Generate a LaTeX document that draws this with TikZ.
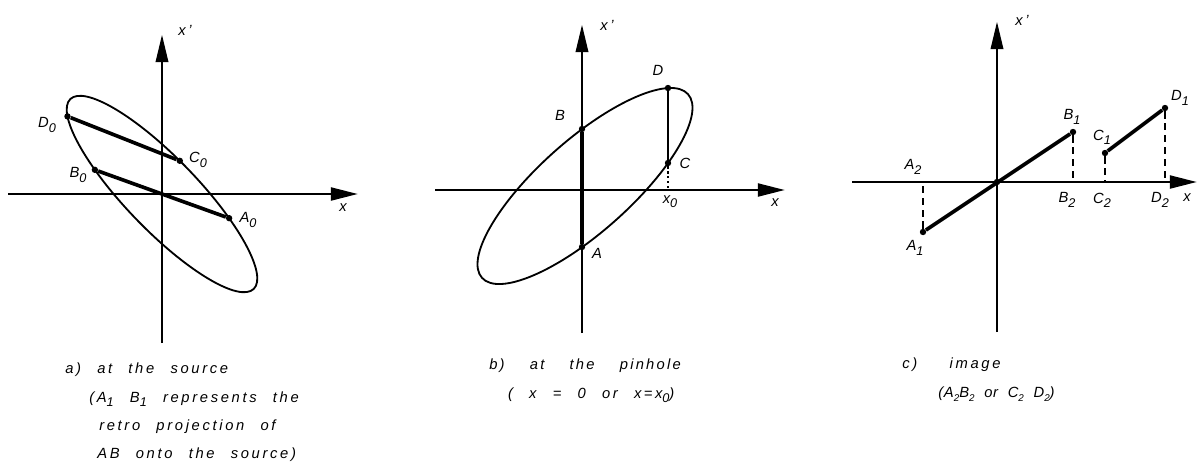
\documentclass[tikz,border=0pt]{standalone}
\usepackage{fontspec}
\setmainfont{Liberation Sans}[LetterSpace=18, WordSpace=2.4]
\newfontfamily\widefont{Liberation Sans}[LetterSpace=15, WordSpace=4]
\newfontfamily\plainfont{Liberation Sans}[LetterSpace=5, WordSpace=2]
\usetikzlibrary{arrows.meta}

\newcommand\lo[1]{\raisebox{-0.55ex}{\small #1}}
\newcommand\los[1]{\raisebox{-0.55ex}{\scriptsize #1}}

\begin{document}
\begin{tikzpicture}[x=0.25mm, y=0.25mm,
  every node/.style={font=\fontsize{10.5}{20}\selectfont\itshape},
  axis/.style={line width=0.8pt, -{Triangle[length=6.8mm, width=3.2mm]}},
  xaxis/.style={axis, line width=2pt},
  curve/.style={line width=1.3pt},
  seg/.style={line width=2.6pt},
  proj/.style={line width=0.9pt, dash pattern=on 5pt off 3.5pt},
  pt/.style={circle, fill, inner sep=0pt, minimum size=1.6mm},
  captext/.style={anchor=north west, align=left, inner sep=0pt}]
  \useasboundingbox (0,0) rectangle (1199,-468);

  % a) at the source
  \begin{scope}[shift={(162,-194)}]
    \coordinate (aW) at (-154,0); \coordinate (aE) at (196,0);
    \coordinate (aS) at (0,-149); \coordinate (aN) at (0,159);
    \draw[xaxis] (aW) -- (aE);
    \draw[axis] (aS) -- (aN);
    \draw[curve, rotate=-46] (0,0) ellipse [x radius=132, y radius=36];
    \begin{scope}[rotate=-46]
      \node[pt] (A0) at ({132*cos(61)},{36*sin(61)}) {};
      \node[pt] (B0) at ({132*cos(241)},{36*sin(241)}) {};
      \node[pt] (C0) at ({132*cos(95)},{36*sin(95)}) {};
      \node[pt] (D0) at ({132*cos(203)},{36*sin(203)}) {};
    \end{scope}
    \draw[seg] (D0) -- (C0);
    \draw[seg] (B0) -- (A0);
    \node (lD0) at (-115,69) {D\lo{0}};
    \node (lC0) at (36,34) {C\lo{0}};
    \node (lB0) at (-84,19) {B\lo{0}};
    \node (lA0) at (86,-26) {A\lo{0}};
    \node (lxa) at (23,164) {x\,'};
    \node (lxb) at (181,-14) {x};
  \end{scope}

  % b) at the pinhole
  \begin{scope}[shift={(582,-190)}]
    \coordinate (bW) at (-147,0); \coordinate (bE) at (203,0);
    \coordinate (bS) at (0,-143); \coordinate (bN) at (0,165);
    \coordinate (bX) at (86,0);
    \draw[xaxis] (bW) -- (bE);
    \draw[axis] (bS) -- (bN);
    \draw[curve, shift={(3,4)}, rotate=41.7] (0,0) ellipse [x radius=138, y radius=46];
    \node[pt] (A) at (0,-57) {};
    \node[pt] (B) at (0,61) {};
    \node[pt] (C) at (86,27) {};
    \node[pt] (D) at (86,102) {};
    \draw[seg] (A) -- (B);
    \draw[line width=1.6pt] (D) -- (C);
    \draw[line width=0.8pt, dash pattern=on 1.5pt off 2pt] (C) -- (bX);
    \node (lB) at (-22,75) {B};
    \node (lD) at (76,120) {D};
    \node (lC) at (103,27) {C};
    \node (lA) at (15,-63) {A};
    \node (lx0) at (88,-12) {x\lo{0}};
    \node (lxc) at (25,165) {x\,'};
    \node (lxd) at (193,-13) {x};
  \end{scope}

  % c) image
  \begin{scope}[shift={(997,-182)}]
    \coordinate (cW) at (-145,0); \coordinate (cE) at (200,0);
    \coordinate (cS) at (0,-150); \coordinate (cN) at (0,160);
    \draw[xaxis] (cW) -- (cE);
    \draw[axis] (cS) -- (cN);
    \node[pt] (O) at (0,0) {};
    \node[pt] (A1) at (-74,-50) {};
    \node[pt] (B1) at (76,50) {};
    \node[pt] (C1) at (108,29) {};
    \node[pt] (D1) at (168,74) {};
    \foreach \p/\q in {A1/A2, B1/B2, C1/C2, D1/D2}
      \coordinate (\q) at (\p |- O);
    \draw[seg] (A1) -- (B1);
    \draw[seg] (C1) -- (D1);
    \foreach \p/\q in {A1/A2, B1/B2, C1/C2, D1/D2}
      \draw[proj] (\p) -- (\q);
    \node (lA2) at (-84,15) {A\lo{2}};
    \node (lA1) at (-82,-66) {A\lo{1}};
    \node (lB1) at (75,65) {B\lo{1}};
    \node (lC1) at (105,45) {C\lo{1}};
    \node (lD1) at (183,84) {D\lo{1}};
    \node (lB2) at (70,-18) {B\lo{2}};
    \node (lC2) at (105,-18) {C\lo{2}};
    \node (lD2) at (163,-18) {D\lo{2}};
    \node (lxe) at (25,162) {x\,'};
    \node (lxf) at (190,-16) {x};
  \end{scope}

  % captions
  \node[captext] (capa) at (65,-363) {a) at the source\\
    \hspace*{6mm}(A\lo{1} B\lo{1} represents\ the\\
    \hspace*{8.5mm}retro projection of\\
    \hspace*{8mm}AB onto the source)};
  \node[captext] (capb) at (489,-359) {{\widefont b) at the pinhole}\\
    \hspace*{4.7mm}( x = 0 or x\,=\,x\lo{0})};
  \node[captext] (capc) at (902,-358) {c)\ \ image\\
    \hspace*{9mm}{\plainfont(A\los{2}B\los{2} or C\los{2} D\los{2})}};
\end{tikzpicture}
\end{document}
